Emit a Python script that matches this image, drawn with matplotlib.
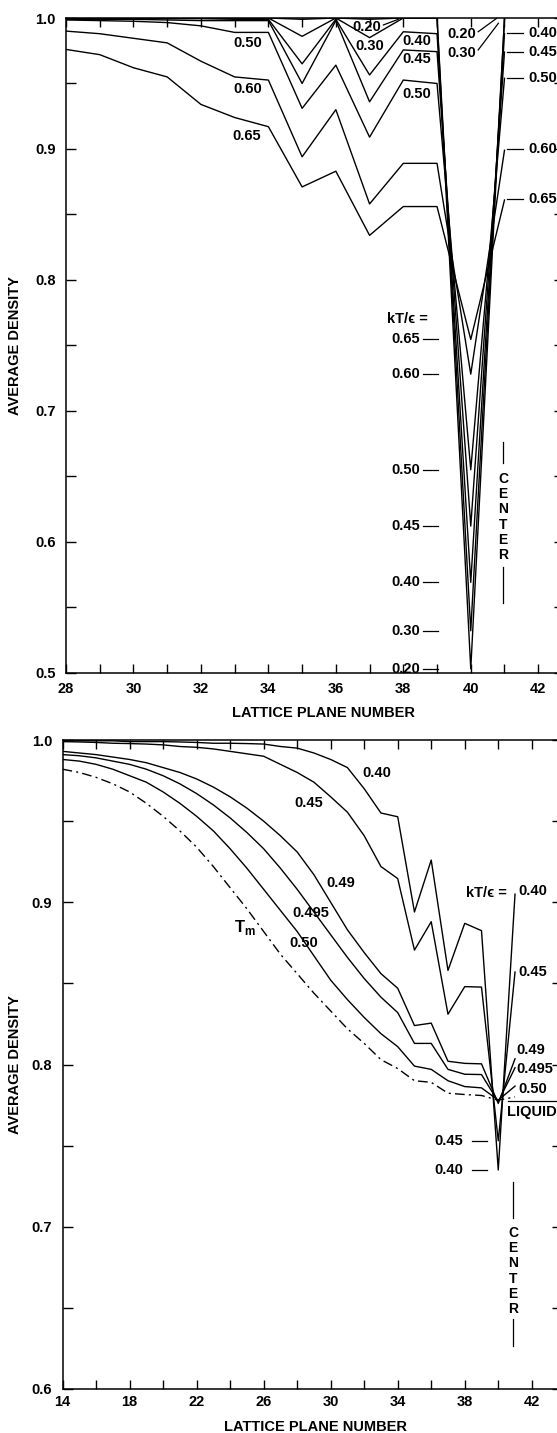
import numpy as np
import matplotlib.pyplot as plt
from matplotlib.ticker import MultipleLocator, FormatStrFormatter

plt.rcParams['font.family'] = ['Liberation Sans', 'DejaVu Sans']
plt.rcParams['font.weight'] = 'bold'
plt.rcParams['axes.labelweight'] = 'bold'
plt.rcParams['mathtext.fontset'] = 'custom'
plt.rcParams['mathtext.rm'] = 'Liberation Sans:bold'

# ---- upper panel: kT/eps = 0.20 ... 0.65, planes 28..41 (40 = center)
planes_a = [28, 29, 30, 31, 32, 33, 34, 35, 36, 37, 38, 39, 40, 41]
rho_a_020 = [1.000, 1.000, 1.000, 1.000, 1.000, 1.000, 1.000, 0.999, 1.000, 0.999, 1.000, 1.000, 0.503, 1.000]
rho_a_030 = [1.000, 1.000, 1.000, 1.000, 1.000, 1.000, 1.000, 0.986, 1.000, 0.985, 1.000, 1.000, 0.532, 0.999]
rho_a_040 = [1.000, 1.000, 1.000, 0.9995, 0.9995, 0.999, 0.999, 0.965, 0.999, 0.9565, 0.9895, 0.988, 0.569, 0.988]
rho_a_045 = [0.999, 0.999, 0.999, 0.9985, 0.998, 0.998, 0.998, 0.950, 0.998, 0.936, 0.9756, 0.9743, 0.612, 0.974]
rho_a_050 = [0.9985, 0.998, 0.9975, 0.9965, 0.994, 0.989, 0.989, 0.931, 0.964, 0.909, 0.9526, 0.950, 0.655, 0.954]
rho_a_060 = [0.990, 0.988, 0.9845, 0.981, 0.967, 0.955, 0.9526, 0.894, 0.930, 0.858, 0.889, 0.889, 0.728, 0.899]
rho_a_065 = [0.976, 0.972, 0.962, 0.955, 0.934, 0.924, 0.917, 0.871, 0.883, 0.834, 0.856, 0.856, 0.7545, 0.861]
temps_a = ['0.20', '0.30', '0.40', '0.45', '0.50', '0.60', '0.65']
curves_a = [rho_a_020, rho_a_030, rho_a_040, rho_a_045, rho_a_050, rho_a_060, rho_a_065]

# ---- lower panel: kT/eps = 0.40 ... 0.50 and T_m, planes 14..41
planes_b = list(range(14, 42))
rho_b_040 = [0.9995, 0.9995, 0.9995, 0.9995, 0.999, 0.999, 0.999, 0.9988, 0.9985, 0.998, 0.998, 0.9978, 0.9975, 0.996,
             0.995, 0.992, 0.988, 0.983, 0.970, 0.955, 0.9527, 0.894, 0.926, 0.858, 0.887, 0.8825, 0.735, 0.905]
rho_b_045 = [0.999, 0.9988, 0.9985, 0.998, 0.9978, 0.9975, 0.997, 0.996, 0.9955, 0.9945, 0.993, 0.9915, 0.990, 0.985,
             0.980, 0.974, 0.965, 0.9555, 0.941, 0.922, 0.9146, 0.8705, 0.888, 0.831, 0.848, 0.8477, 0.753, 0.857]
rho_b_049 = [0.993, 0.992, 0.991, 0.9895, 0.988, 0.986, 0.983, 0.980, 0.976, 0.971, 0.965, 0.958, 0.950, 0.941,
             0.931, 0.917, 0.900, 0.883, 0.869, 0.856, 0.847, 0.824, 0.8255, 0.802, 0.8007, 0.8004, 0.776, 0.8035]
rho_b_0495 = [0.991, 0.9903, 0.989, 0.987, 0.985, 0.982, 0.978, 0.973, 0.967, 0.960, 0.952, 0.943, 0.933, 0.921,
              0.908, 0.894, 0.880, 0.866, 0.853, 0.8415, 0.832, 0.813, 0.813, 0.797, 0.794, 0.7938, 0.777, 0.798]
rho_b_050 = [0.988, 0.987, 0.985, 0.982, 0.978, 0.974, 0.968, 0.961, 0.953, 0.944, 0.933, 0.921, 0.908, 0.895,
             0.882, 0.867, 0.852, 0.840, 0.829, 0.819, 0.811, 0.799, 0.797, 0.790, 0.7864, 0.7856, 0.778, 0.7867]
rho_b_tm = [0.982, 0.980, 0.977, 0.973, 0.968, 0.961, 0.953, 0.944, 0.934, 0.922, 0.909, 0.896, 0.882, 0.868,
            0.856, 0.844, 0.833, 0.822, 0.813, 0.803, 0.7975, 0.790, 0.789, 0.7823, 0.7815, 0.7809, 0.778, 0.780]
rho_liquid = 0.7778

fig = plt.figure(figsize=(5.57, 14.33), dpi=100)
ax1 = fig.add_axes([66 / 557, 1 - 672.7 / 1433, 14.75 * 33.73 / 557, 654.7 / 1433])
ax2 = fig.add_axes([62.5 / 557, 1 - 1389 / 1433, 29.8 * 16.76 / 557, 649 / 1433])

LW = 1.0
FS = 10.5
kw = dict(color='black', lw=LW)


def dash(ax, x0, x1, y0, y1):
    ax.plot([x0, x1], [y0, y1], color='black', lw=0.9, clip_on=False)


def style(ax, xlo, xhi, ylo, xmajor, xmin, xpad, ypad):
    ax.set_xlim(xlo, xhi)
    ax.set_ylim(ylo, 1.0)
    ax.set_xticks(xmajor)
    ax.xaxis.set_minor_locator(MultipleLocator(xmin))
    ax.yaxis.set_major_locator(MultipleLocator(0.1))
    ax.yaxis.set_minor_locator(MultipleLocator(0.05))
    ax.yaxis.set_major_formatter(FormatStrFormatter('%.1f'))
    ax.tick_params(which='both', direction='in', top=True, right=True, width=1.0, colors='black')
    ax.tick_params(axis='x', which='both', length=6.5)
    ax.tick_params(axis='y', which='both', length=7.5)
    ax.tick_params(axis='x', labelsize=FS, pad=xpad)
    ax.tick_params(axis='y', labelsize=FS, pad=ypad)
    for s in ax.spines.values():
        s.set_linewidth(1.1)
    ax.set_xlabel('LATTICE PLANE NUMBER', fontsize=10.5)
    ax.set_ylabel('AVERAGE DENSITY', fontsize=10.5)


# ================= upper panel
style(ax1, 28, 42.75, 0.5, range(28, 43, 2), 1, 6.5, 7.5)
for rho in curves_a:
    ax1.plot(planes_a, rho, **kw)

for t, x, y in [('0.50', 33.39, 0.981), ('0.60', 33.39, 0.9458), ('0.65', 33.36, 0.910),
                ('0.20', 36.93, 0.9934), ('0.30', 37.02, 0.9788), ('0.40', 38.39, 0.9826),
                ('0.45', 38.39, 0.9687), ('0.50', 38.39, 0.942), ('0.20', 39.74, 0.9878),
                ('0.30', 39.74, 0.9736)]:
    ax1.text(x, y, t, fontsize=FS, ha='center', va='center')
dash(ax1, 37.41, 37.85, 0.9947, 0.999)
dash(ax1, 40.22, 40.77, 0.9895, 0.9998)
dash(ax1, 40.22, 40.82, 0.9756, 0.996)

# right-hand values at plane 41
for t, y in zip(['0.40', '0.45', '0.50', '0.60', '0.65'], [0.9883, 0.9743, 0.954, 0.900, 0.8617]):
    dash(ax1, 41.07, 41.56, y, y)
    ax1.text(41.70, y, t, fontsize=FS, ha='left', va='center')

# minimum values at the center plane
ax1.text(38.73, 0.770, 'kT/\u03f5 =', fontsize=FS, ha='right', va='center')
for t, rho in zip(temps_a, curves_a):
    vmin = rho[planes_a.index(40)]
    ax1.text(38.49, vmin, t, fontsize=FS, ha='right', va='center')
    dash(ax1, 38.57, 39.04, vmin, vmin)

ax1.text(40.96, 0.6189, 'C\nE\nN\nT\nE\nR', fontsize=10, ha='center', va='center', linespacing=1.12)
dash(ax1, 40.96, 40.96, 0.6764, 0.660)
dash(ax1, 40.96, 40.96, 0.581, 0.553)

ax1.xaxis.set_label_coords(0.5166, -0.051)
ax1.yaxis.set_label_coords(-0.088, 0.5)

# ================= lower panel
style(ax2, 14, 43.8, 0.6, range(14, 43, 4), 2, 4.3, 7.5)
for rho in [rho_b_040, rho_b_045, rho_b_049, rho_b_0495, rho_b_050]:
    ax2.plot(planes_b, rho, **kw)
ax2.plot(planes_b, rho_b_tm, color='black', lw=LW, linestyle=(0, (7, 3, 1.5, 3)))
ax2.plot([40.6, 43.8], [rho_liquid, rho_liquid], color='black', lw=0.9)
ax2.text(40.5, 0.771, 'LIQUID', fontsize=FS, ha='left', va='center')

for t, x, y in [('0.40', 32.77, 0.9796), ('0.45', 28.69, 0.9614), ('0.49', 30.6, 0.912),
                ('0.495', 28.83, 0.8935), ('0.50', 28.4, 0.875)]:
    ax2.text(x, y, t, fontsize=FS, ha='center', va='center')
ax2.text(24.9, 0.8846, r'T$_{\rm m}$', fontsize=FS + 1.5, ha='center', va='center')

ax2.text(40.5, 0.906, 'kT/\u03f5 =', fontsize=FS, ha='right', va='center')
for t, x, y in [('0.40', 41.2, 0.907), ('0.45', 41.2, 0.857), ('0.49', 41.09, 0.809),
                ('0.495', 41.09, 0.797), ('0.50', 41.2, 0.7846)]:
    ax2.text(x, y, t, fontsize=FS, ha='left', va='center')

for t, rho in [('0.45', rho_b_045), ('0.40', rho_b_040)]:
    vmin = rho[planes_b.index(40)]
    ax2.text(37.91, vmin, t, fontsize=FS, ha='right', va='center')
    dash(ax2, 38.41, 39.31, vmin, vmin)

ax2.text(40.88, 0.6728, 'C\nE\nN\nT\nE\nR', fontsize=10, ha='center', va='center', linespacing=1.12)
dash(ax2, 40.88, 40.88, 0.7273, 0.7057)
dash(ax2, 40.88, 40.88, 0.6432, 0.6265)

ax2.xaxis.set_label_coords(0.5055, -0.0478)
ax2.yaxis.set_label_coords(-0.081, 0.5)

fig.savefig('out.png', dpi=100)
